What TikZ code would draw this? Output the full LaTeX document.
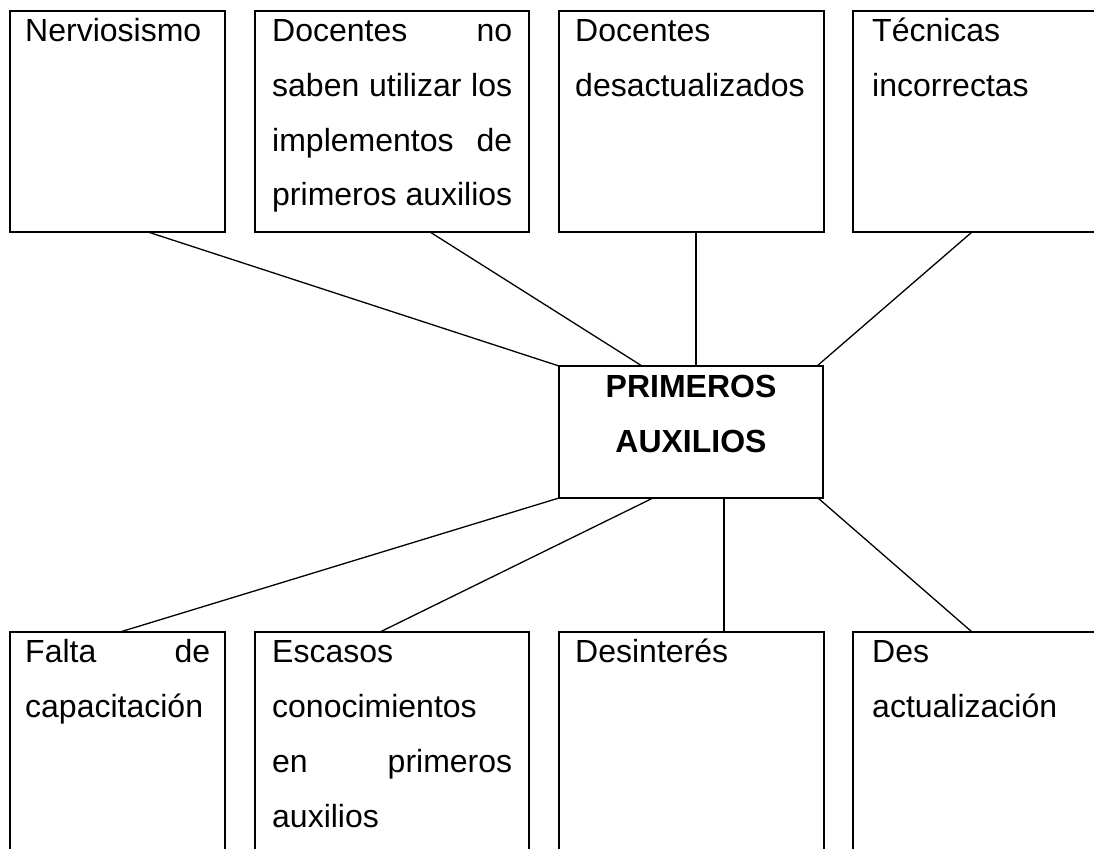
\documentclass[tikz,border=0pt]{standalone}
\usepackage{fontspec}
\setmainfont{Liberation Sans}
\usetikzlibrary{calc}
\begin{document}
\begin{tikzpicture}[x=1pt,y=-1pt,
  box/.style={draw, line width=1.8pt, rectangle, inner sep=0pt, outer sep=0pt, anchor=north west},
  conn/.style={line width=1.3pt},
  txt/.style={inner sep=0pt, anchor=base west, font=\fontsize{32}{38}\selectfont},
  ctxt/.style={inner sep=0pt, anchor=base, font=\fontsize{32}{38}\selectfont\bfseries}]
\useasboundingbox (0,0) rectangle (1094,848);
\clip (0,0) rectangle (1094,848);
\fill[white] (0,0) rectangle (1094,848);
% boxes
\node[box, minimum width=215pt, minimum height=221pt] (a1) at (10,11) {};
\node[box, minimum width=274pt, minimum height=221pt] (a2) at (255,11) {};
\node[box, minimum width=265pt, minimum height=221pt] (a3) at (559,11) {};
\node[box, minimum width=280pt, minimum height=221pt] (a4) at (853,11) {};
\node[box, minimum width=264pt, minimum height=132pt] (c) at (559,366) {};
\node[box, minimum width=215pt, minimum height=250pt] (b1) at (10,632) {};
\node[box, minimum width=274pt, minimum height=250pt] (b2) at (255,632) {};
\node[box, minimum width=265pt, minimum height=250pt] (b3) at (559,632) {};
\node[box, minimum width=280pt, minimum height=250pt] (b4) at (853,632) {};
% connectors
\draw[conn] ($(a1.south west)+(138,0)$) -- (c.north west);
\draw[conn] ($(a2.south west)+(175,0)$) -- ($(c.north west)+(83,0)$);
\draw[conn] ($(a3.south west)+(137,0)$) -- ($(c.north west)+(137,0)$);
\draw[conn] ($(a4.south west)+(119,0)$) -- ($(c.north west)+(258,0)$);
\draw[conn] (c.south west) -- ($(b1.north west)+(110,0)$);
\draw[conn] ($(c.south west)+(94,0)$) -- ($(b2.north west)+(125,0)$);
\draw[conn] ($(c.south west)+(165,0)$) -- ($(b3.north west)+(165,0)$);
\draw[conn] ($(c.south west)+(259,0)$) -- ($(b4.north west)+(119,0)$);
% texts
\node[txt] (a1l1) at (25,42) {Nerviosismo};
\node[txt] (a2l1) at (272,42) {\makebox[240pt][s]{Docentes no}};
\node[txt] (a2l2) at (272,96.5) {\makebox[240pt][s]{saben utilizar los}};
\node[txt] (a2l3) at (272,151) {\makebox[240pt][s]{implementos de}};
\node[txt] (a2l4) at (272,205.5) {primeros auxilios};
\node[txt] (a3l1) at (575,42) {Docentes};
\node[txt] (a3l2) at (575,96.5) {desactualizados};
\node[txt] (a4l1) at (872,42) {Técnicas};
\node[txt] (a4l2) at (872,96.5) {incorrectas};
\node[ctxt] (cl1) at (691,397) {PRIMEROS};
\node[ctxt] (cl2) at (691,452) {AUXILIOS};
\node[txt] (b1l1) at (25,662) {\makebox[185pt][s]{Falta de}};
\node[txt] (b1l2) at (25,717) {capacitación};
\node[txt] (b2l1) at (272,662) {Escasos};
\node[txt] (b2l2) at (272,717) {conocimientos};
\node[txt] (b2l3) at (272,772) {\makebox[240pt][s]{en primeros}};
\node[txt] (b2l4) at (272,827) {auxilios};
\node[txt] (b3l1) at (575,662) {Desinterés};
\node[txt] (b4l1) at (872,662) {Des};
\node[txt] (b4l2) at (872,717) {actualización};
\end{tikzpicture}
\end{document}
